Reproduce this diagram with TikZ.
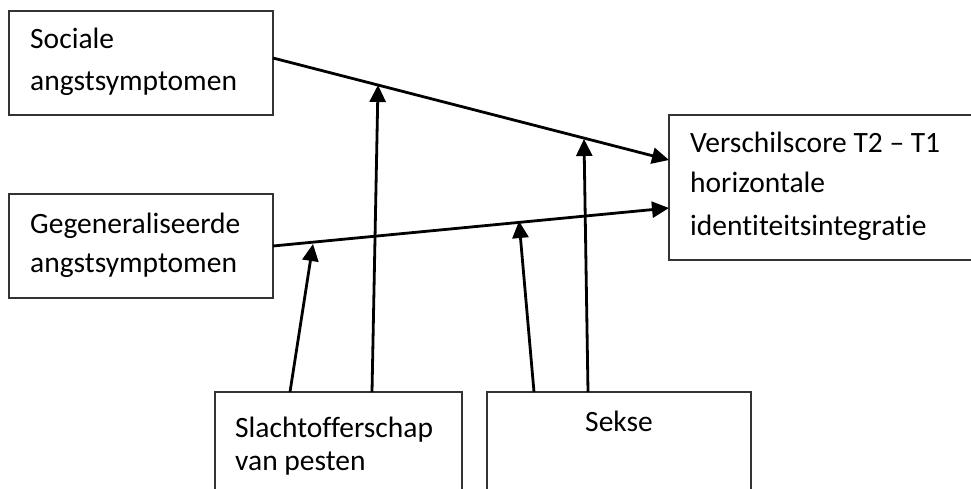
\documentclass[tikz,border=0pt]{standalone}
\usepackage{fontspec}
\setmainfont{Carlito}[Ligatures={NoCommon}]
\usetikzlibrary{arrows.meta}
\begin{document}
\begin{tikzpicture}[x=1pt,y=-1pt,
  box/.style={draw=black!80, line width=1.3pt, inner sep=0pt, outer sep=0pt, anchor=north west},
  lbl/.style={anchor=base west, inner sep=0pt, font=\fontsize{29.5}{35}\selectfont},
  lblc/.style={anchor=base, inner sep=0pt, font=\fontsize{29.5}{35}\selectfont},
  conn/.style={line width=2.8pt, -{Triangle[length=17pt,width=16pt]}}]
\useasboundingbox (0,0) rectangle (971,489);
\clip (0,0) rectangle (971,489);
% boxes
\node[box, minimum width=264pt, minimum height=104pt] (soc) at (9,11) {};
\node[box, minimum width=264pt, minimum height=104pt] (gen) at (9,194) {};
\node[box, minimum width=311pt, minimum height=145pt] (ver) at (669,115) {};
\node[box, minimum width=247pt, minimum height=110pt] (sla) at (215,392) {};
\node[box, minimum width=264pt, minimum height=110pt] (sek) at (487,392) {};
% texts
\node[lbl] (soc1) at (30,49) {Sociale};
\node[lbl] (soc2) at (30,91) {angstsymptomen};
\node[lbl] (gen1) at (30,233) {Gegeneraliseerde};
\node[lbl] (gen2) at (30,272) {angstsymptomen};
\node[lbl] (ver1) at (690,153) {Verschilscore T2 – T1};
\node[lbl] (ver2) at (690,193) {horizontale};
\node[lbl] (ver3) at (690,235) {identiteitsintegratie};
\node[lbl] (sla1) at (235,437) {Slachtofferschap};
\node[lbl] (sla2) at (235,470) {van pesten};
\node[lblc] (sek1) at (619,431) {Sekse};
% connector end points
\coordinate (s1e) at (273,58);
\coordinate (s2e) at (273,246);
\coordinate (t1) at (669,160);
\coordinate (t2) at (669,208);
\coordinate (d0) at (290,392);
\coordinate (d1) at (313,244);
\coordinate (a0) at (372,392);
\coordinate (a1) at (378,85);
\coordinate (c0) at (534,392);
\coordinate (c1) at (519,221);
\coordinate (b0) at (588,392);
\coordinate (b1) at (584,139);
% connectors
\draw[conn] (s1e) -- (t1);
\draw[conn] (s2e) -- (t2);
\draw[conn] (d0) -- (d1);
\draw[conn] (a0) -- (a1);
\draw[conn] (c0) -- (c1);
\draw[conn] (b0) -- (b1);
\end{tikzpicture}
\end{document}
